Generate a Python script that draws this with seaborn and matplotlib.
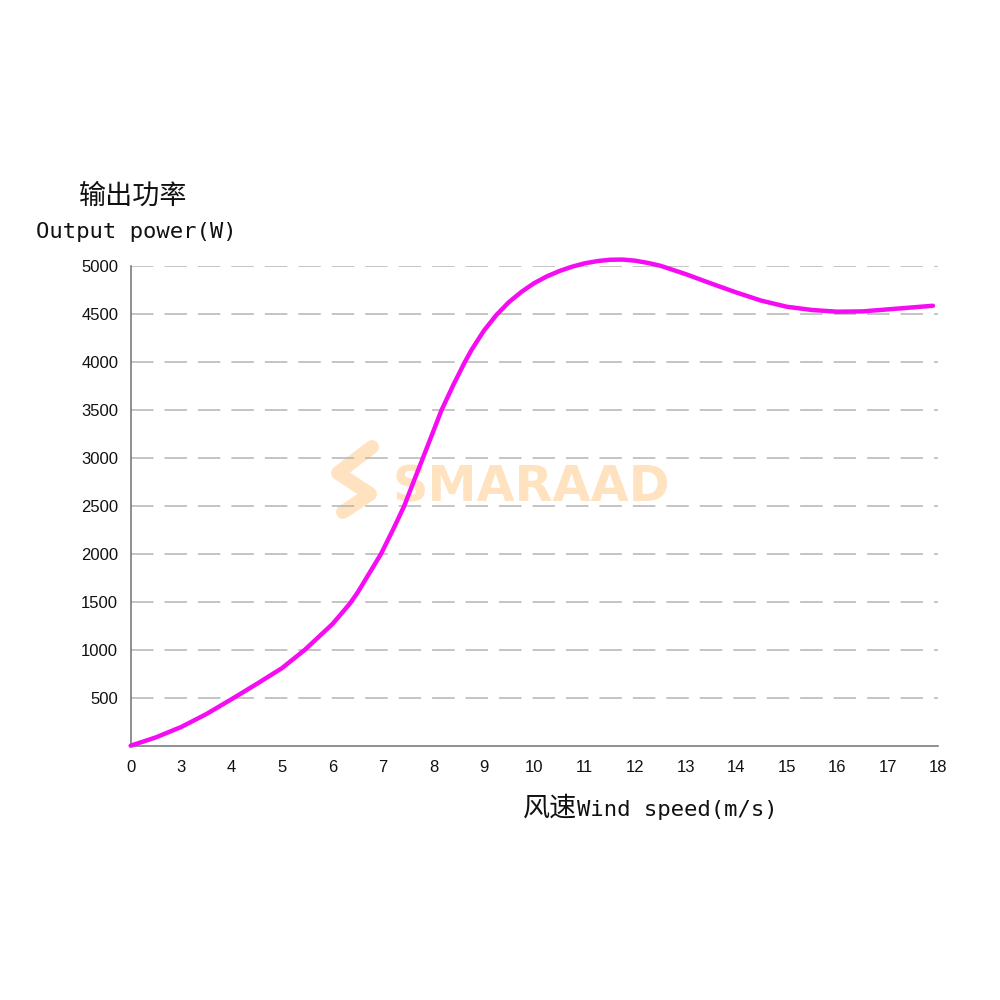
import matplotlib
matplotlib.use("Agg")
import matplotlib.pyplot as plt
import seaborn as sns
import pandas as pd
import numpy as np
from matplotlib.lines import Line2D

# x axis slots (labels are not evenly spaced in m/s: 0 sits one slot before 3)
wind_labels = ["0", "3", "4", "5", "6", "7", "8", "9", "10", "11",
               "12", "13", "14", "15", "16", "17", "18"]
power_ticks = [500, 1000, 1500, 2000, 2500, 3000, 3500, 4000, 4500, 5000]

# power curve, x given as axis slot position
curve_pos = [0, 0.5, 1, 1.5, 2.03, 2.5, 3, 3.45, 4, 4.34, 4.5, 4.96, 5.2,
             5.42, 5.6, 5.79, 6.16, 6.4, 6.62, 6.75, 7, 7.25, 7.5, 7.75, 8,
             8.25, 8.5, 8.75, 9, 9.25, 9.5, 9.75, 10, 10.25, 10.5, 11, 11.5,
             12, 12.5, 13, 13.5, 14, 14.5, 15, 15.5, 15.9]
curve_power = [0, 87, 195, 330, 495, 645, 810, 1000, 1270, 1480, 1600, 2000,
               2255, 2500, 2745, 3000, 3500, 3770, 4000, 4125, 4330, 4495,
               4630, 4737, 4827, 4897, 4953, 4998, 5033, 5056, 5070, 5072,
               5060, 5037, 5007, 4920, 4823, 4729, 4643, 4580, 4546, 4528,
               4531, 4552, 4573, 4590]

df = pd.DataFrame({"pos": curve_pos, "power": curve_power})

sns.set_style("white")
plt.rcParams["font.family"] = ["Liberation Sans", "DejaVu Sans"]

fig = plt.figure(figsize=(10, 10), dpi=100)
ax = fig.add_axes([0.1307, 0.2543, 0.8073, 0.4802])

# watermark (behind grid and curve)
wm = "#ffe2c0"
ax.text(0.393, 0.498, "SMARAAD", transform=fig.transFigure, fontsize=35.5,
        fontweight="bold", color=wm, ha="left", va="baseline",
        family="DejaVu Sans", zorder=0.1)
logo = Line2D([0.372, 0.338, 0.370, 0.343], [0.553, 0.527, 0.506, 0.488],
              transform=fig.transFigure, color=wm, lw=10,
              solid_joinstyle="miter", zorder=0.1)
ax.add_line(logo)

sns.lineplot(data=df, x="pos", y="power", ax=ax, color="#f50cf2",
             linewidth=3.2, zorder=3)
for line in ax.get_lines():
    line.set_clip_on(False)
    line.set_solid_capstyle("round")
    line.set_solid_joinstyle("round")

ax.set_xlim(0, 16)
ax.set_ylim(0, 5010)
ax.set_xticks(np.arange(len(wind_labels)))
ax.set_xticklabels(wind_labels)
ax.set_yticks(power_ticks)
ax.set_yticklabels([str(v) for v in power_ticks])
ax.set_xlabel("")
ax.set_ylabel("")

ax.set_axisbelow(True)
ax.yaxis.grid(True, color="#b4b4b4", linewidth=1.1,
              linestyle=(0, (14.7, 7.2)))
ax.xaxis.grid(False)

for side in ["top", "right"]:
    ax.spines[side].set_visible(False)
for side in ["left", "bottom"]:
    ax.spines[side].set_color("#707070")
    ax.spines[side].set_linewidth(1.1)
ax.spines["left"].set_bounds(0, 5000)

ax.tick_params(axis="x", direction="in", length=7, width=1.0,
               color="#707070", pad=10, labelsize=12, labelcolor="#111111")
ax.tick_params(axis="y", length=0, pad=9, labelsize=12,
               labelcolor="#111111")

# axis titles
fig.text(0.079, 0.7965, "输出功率", fontsize=19.5, family="Noto Sans CJK SC",
         ha="left", va="baseline", color="#111111")
fig.text(0.036, 0.762, "Output power(W)", fontsize=16,
         family="DejaVu Sans Mono", ha="left", va="baseline",
         color="#111111")
fig.text(0.5767, 0.184, "风速", fontsize=19.5, family="Noto Sans CJK SC",
         ha="right", va="baseline", color="#111111")
fig.text(0.5767, 0.184, "Wind speed(m/s)", fontsize=16,
         family="DejaVu Sans Mono", ha="left", va="baseline",
         color="#111111")

fig.savefig("out.png", dpi=100, facecolor="white")
